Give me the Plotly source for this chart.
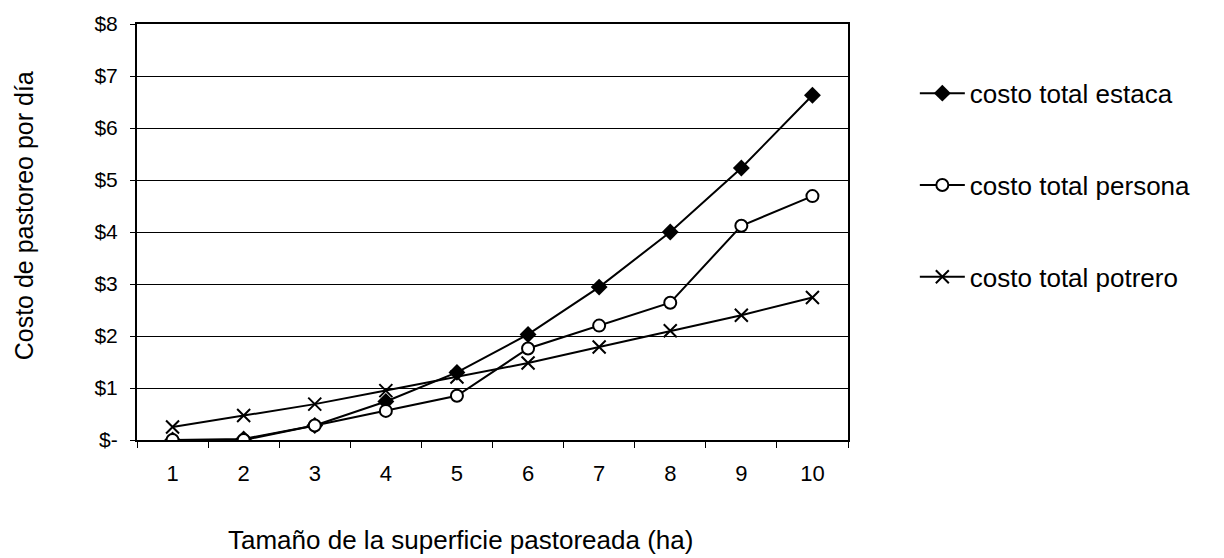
import plotly.graph_objects as go

# superficie pastoreada (ha)
hectareas = [str(i) for i in range(1, 11)]

costo_estaca = [0.0, 0.02, 0.28, 0.74, 1.30, 2.03, 2.94, 4.00, 5.23, 6.63]
costo_persona = [0.0, 0.0, 0.28, 0.56, 0.85, 1.76, 2.20, 2.64, 4.12, 4.69]
costo_potrero = [0.25, 0.47, 0.69, 0.95, 1.21, 1.48, 1.79, 2.10, 2.40, 2.74]

y_ticks = [0, 1, 2, 3, 4, 5, 6, 7, 8]
y_labels = ["$-", "$1", "$2", "$3", "$4", "$5", "$6", "$7", "$8"]

font = "Liberation Sans, Arial, sans-serif"

fig = go.Figure()
fig.add_trace(go.Scatter(
    x=hectareas, y=costo_estaca, mode="lines+markers",
    name="costo total estaca", legendgroup="a",
    line=dict(color="black", width=2),
    marker=dict(symbol="diamond", size=13, color="black"),
))
fig.add_trace(go.Scatter(
    x=hectareas, y=costo_persona, mode="lines+markers",
    name="costo total persona", legendgroup="b",
    line=dict(color="black", width=2),
    marker=dict(symbol="circle", size=12, color="white",
                line=dict(color="black", width=2)),
))
fig.add_trace(go.Scatter(
    x=hectareas, y=costo_potrero, mode="lines+markers",
    name="costo total potrero", legendgroup="c",
    line=dict(color="black", width=2),
    marker=dict(symbol="x-thin", size=13, color="black",
                line=dict(color="black", width=2)),
))

# body margin of the page is 8px, margins account for it
fig.update_layout(
    width=1216, height=550,
    margin=dict(l=129, r=376, t=16, b=118),
    paper_bgcolor="white", plot_bgcolor="white",
    font=dict(family=font, size=20, color="black"),
    showlegend=True,
    legend=dict(
        x=1.094, y=0.89, xanchor="left", yanchor="top",
        font=dict(family=font, size=26), tracegroupgap=55,
        itemwidth=45,
        traceorder="grouped", bgcolor="rgba(0,0,0,0)",
    ),
    xaxis=dict(
        type="category", tickson="boundaries",
        ticks="outside", ticklen=6, tickcolor="black",
        showline=True, linecolor="black", linewidth=2, mirror=True,
        showgrid=False, tickfont=dict(family=font, size=22),
        ticklabelstandoff=13, automargin=False,
        range=[-0.5, 9.5],
    ),
    yaxis=dict(
        range=[0, 8], tickvals=y_ticks, ticktext=y_labels,
        ticks="outside", ticklen=5, tickcolor="black",
        showline=True, linecolor="black", linewidth=2, mirror=True,
        showgrid=True, gridcolor="black", gridwidth=1,
        tickfont=dict(family=font, size=21), zeroline=False,
        ticklabelstandoff=8, automargin=False,
    ),
    annotations=[
        dict(
            text="Tamaño de la superficie pastoreada (ha)",
            xref="paper", yref="paper", x=0.455, y=-0.24,
            xanchor="center", yanchor="middle", showarrow=False,
            font=dict(family=font, size=26),
        ),
        dict(
            text="Costo de pastoreo por día",
            xref="paper", yref="paper", x=-0.159, y=0.54,
            xanchor="center", yanchor="middle", showarrow=False,
            textangle=-90, font=dict(family=font, size=25),
        ),
    ],
)

fig.write_html("out.html")
